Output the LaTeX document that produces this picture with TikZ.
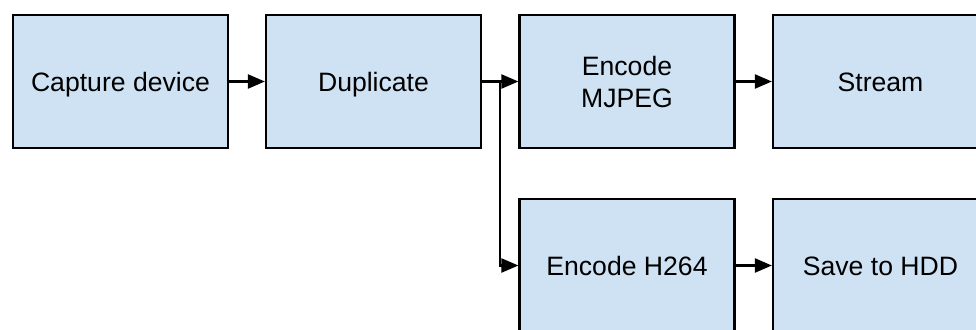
\documentclass[tikz,border=0pt]{standalone}
\usepackage{fontspec}
\setmainfont{Liberation Sans}
\usepackage{xcolor}
\usetikzlibrary{arrows.meta}
\definecolor{boxblue}{HTML}{CFE2F3}

\begin{document}
\begin{tikzpicture}[x=1pt, y=-1pt, >={Triangle[length=17pt,width=14pt]},
	block/.style={draw=black, fill=boxblue, line width=2.2pt, minimum width=215pt,
		minimum height=133pt, inner sep=0pt, align=center, font=\fontsize{26.6}{32}\selectfont},
	oneline/.style={block, text height=19pt, text depth=0pt},
	conn/.style={->, line width=2.2pt}]
	\useasboundingbox (0,0) rectangle (976,329);
	\clip (0,0) rectangle (976,329);
	% row 1
	\node[oneline] (cap) at (120.5,81.5) {Capture device};
	\node[oneline] (dup) at (373.5,81.5) {Duplicate};
	\node[block] (mjpeg) at (627,81.5) {Encode\\MJPEG};
	\node[oneline] (stream) at (880.5,81.5) {Stream};
	% row 2
	\node[oneline] (h264) at (627,265.5) {Encode H264};
	\node[oneline] (hdd) at (880.5,265.5) {Save to HDD};
	\coordinate (split) at (500,81.5);
	% arrows
	\draw[conn] (cap) -- (dup);
	\draw[conn] (dup) -- (mjpeg);
	\draw[conn] (split) |- (h264.west);
	\draw[conn] (mjpeg) -- (stream);
	\draw[conn] (h264) -- (hdd);
\end{tikzpicture}
\end{document}
